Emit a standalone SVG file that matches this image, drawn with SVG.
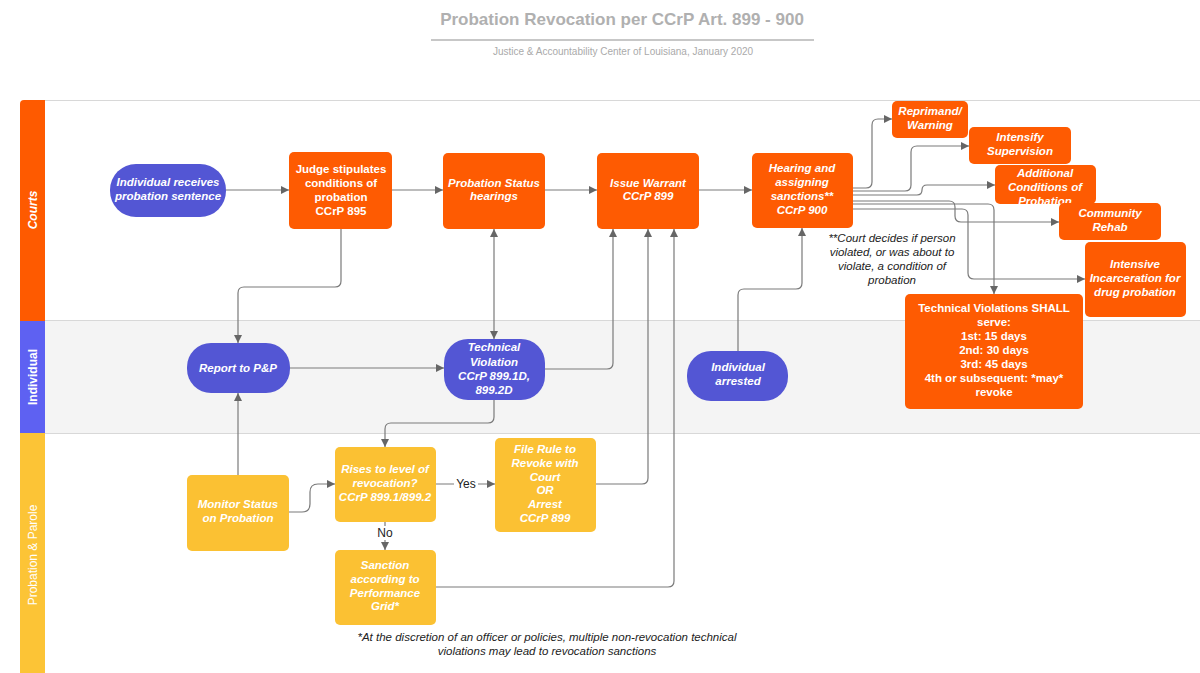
<svg xmlns="http://www.w3.org/2000/svg" width="1200" height="673" viewBox="0 0 1200 673">
<style>
.t{font-family:"Liberation Sans",Arial,sans-serif;font-size:11.5px;font-weight:bold;fill:#fff;text-anchor:middle}
.i{font-style:italic}
.org{fill:#fe5b02}
.blu{fill:#5356d4}
.yel{fill:#fbc133}
.c{fill:none;stroke:#7a7a7a;stroke-width:1.2}
.note{font-family:"Liberation Sans",Arial,sans-serif;font-size:11.5px;font-style:italic;fill:#222;text-anchor:middle}
.lab{font-family:"Liberation Sans",Arial,sans-serif;font-size:12px;fill:#222;text-anchor:middle}
.lane{stroke:#d8d8d8;stroke-width:1}
.hdr{font-family:"Liberation Sans",Arial,sans-serif;font-size:12px;fill:#fff;text-anchor:middle}
</style>
<defs>
<marker id="ah" viewBox="0 0 10 10" refX="10" refY="5" markerWidth="10" markerHeight="8" markerUnits="userSpaceOnUse" orient="auto-start-reverse"><path d="M0,0 L10,5 L0,10 z" fill="#666"/></marker>
<clipPath id="clipAdd"><rect x="995" y="165" width="101" height="39"/></clipPath>
</defs>
<rect width="1200" height="673" fill="#fff"/>
<g id="title">
<text x="622" y="25" font-family="Liberation Sans,Arial,sans-serif" font-size="17" font-weight="bold" fill="#b0b0b0" text-anchor="middle">Probation Revocation per CCrP Art. 899 - 900</text>
<line x1="431" y1="40" x2="814" y2="40" stroke="#b5b5b5" stroke-width="1.5"/>
<text x="623" y="55" font-family="Liberation Sans,Arial,sans-serif" font-size="10" fill="#aaa" text-anchor="middle">Justice &amp; Accountability Center of Louisiana, January 2020</text>
</g>
<g id="lanes">
<rect x="45" y="321" width="1155" height="112" fill="#f4f4f4"/>
<line class="lane" x1="45" y1="100.5" x2="1200" y2="100.5"/>
<line class="lane" x1="45" y1="320.5" x2="1200" y2="320.5"/>
<line class="lane" x1="45" y1="433.5" x2="1200" y2="433.5"/>
<path d="M20,104 Q20,100 24,100 H45 V321 H20 z" fill="#fe5a00"/>
<rect x="20" y="321" width="25" height="112" fill="#5e61f2"/>
<rect x="20" y="433" width="25" height="240" fill="#fcc436"/>
<text class="hdr" transform="translate(37,210) rotate(-90)" font-weight="bold" font-style="italic">Courts</text>
<text class="hdr" transform="translate(37,377) rotate(-90)" font-weight="bold">Individual</text>
<text class="hdr" transform="translate(37,555) rotate(-90)">Probation &amp; Parole</text>
</g>
<g id="connectors">
<path class="c" marker-end="url(#ah)" d="M226,190 H289"/>
<path class="c" marker-end="url(#ah)" d="M392,190 H443"/>
<path class="c" marker-end="url(#ah)" d="M545,190 H597"/>
<path class="c" marker-end="url(#ah)" d="M699,190 H752"/>
<path class="c" marker-end="url(#ah)" d="M341,229 V281 Q341,287 335,287 H244 Q238,287 238,293 V343"/>
<path class="c" marker-start="url(#ah)" marker-end="url(#ah)" d="M494,229 V339"/>
<path class="c" marker-end="url(#ah)" d="M290,368 H444"/>
<path class="c" marker-end="url(#ah)" d="M238,475 V393"/>
<path class="c" marker-end="url(#ah)" d="M494,400 V417 Q494,423 488,423 H391 Q385,423 385,429 V447"/>
<path class="c" marker-end="url(#ah)" d="M545,369 H607 Q613,369 613,363 V229"/>
<path class="c" marker-end="url(#ah)" d="M596,484 H642 Q648,484 648,478 V229"/>
<path class="c" marker-end="url(#ah)" d="M436,587 H668 Q674,587 674,581 V229"/>
<path class="c" marker-end="url(#ah)" d="M738,351 V295 Q738,289 744,289 H796 Q802,289 802,283 V228"/>
<path class="c" marker-end="url(#ah)" d="M289,512 H302 Q310,512 310,504 V492 Q310,484 318,484 H335"/>
<path class="c" marker-end="url(#ah)" d="M436,484 H495"/>
<path class="c" marker-end="url(#ah)" d="M385,522 V550"/>
<path class="c" marker-end="url(#ah)" d="M853,188 H866 Q872,188 872,182 V125 Q872,119 878,119 H892"/>
<path class="c" marker-end="url(#ah)" d="M853,191 H905 Q911,191 911,185 V152 Q911,146 917,146 H969"/>
<path class="c" marker-end="url(#ah)" d="M853,195 H917 Q922,195 922,190 Q922,185 927,185 H995"/>
<path class="c" marker-end="url(#ah)" d="M853,201 H949 Q955,201 955,207 V216 Q955,222 961,222 H1059"/>
<path class="c" marker-end="url(#ah)" d="M853,204 H988 Q994,204 994,210 V294"/>
<path class="c" marker-end="url(#ah)" d="M853,209 H962 Q968,209 968,215 V273 Q968,279 974,279 H1085"/>
<rect x="454" y="476" width="24" height="15" fill="#fff"/>
<text class="lab" x="466" y="488">Yes</text>
<rect x="376" y="526" width="18" height="14" fill="#fff"/>
<text class="lab" x="385" y="537">No</text>
</g>
<g id="n-receives">
<rect class="blu" x="110" y="164" width="116" height="53" rx="26"/>
<text class="t i" x="168" y="186">Individual receives</text>
<text class="t i" x="168" y="200">probation sentence</text>
</g>
<g id="n-judge">
<rect class="org" x="289" y="152" width="103" height="77" rx="5"/>
<text class="t" x="341" y="173">Judge stipulates</text>
<text class="t" x="341" y="187">conditions of</text>
<text class="t" x="341" y="201">probation</text>
<text class="t" x="341" y="215">CCrP 895</text>
</g>
<g id="n-status">
<rect class="org" x="443" y="153" width="102" height="76" rx="5"/>
<text class="t i" x="494" y="187">Probation Status</text>
<text class="t i" x="494" y="200">hearings</text>
</g>
<g id="n-warrant">
<rect class="org" x="597" y="153" width="102" height="76" rx="5"/>
<text class="t i" x="648" y="187">Issue Warrant</text>
<text class="t i" x="648" y="200">CCrP 899</text>
</g>
<g id="n-hearing">
<rect class="org" x="752" y="153" width="101" height="75" rx="5"/>
<text class="t i" x="802" y="172">Hearing and</text>
<text class="t i" x="802" y="186">assigning</text>
<text class="t i" x="802" y="200">sanctions**</text>
<text class="t i" x="802" y="214">CCrP 900</text>
</g>
<g id="n-reprimand">
<rect class="org" x="892" y="101" width="76" height="37" rx="5"/>
<text class="t i" x="930" y="115">Reprimand/</text>
<text class="t i" x="930" y="129">Warning</text>
</g>
<g id="n-intensify">
<rect class="org" x="969" y="127" width="102" height="37" rx="5"/>
<text class="t i" x="1020" y="141">Intensify</text>
<text class="t i" x="1020" y="155">Supervision</text>
</g>
<g id="n-additional">
<rect class="org" x="995" y="165" width="101" height="39" rx="5"/>
<g clip-path="url(#clipAdd)">
<text class="t i" x="1045" y="177">Additional</text>
<text class="t i" x="1045" y="191">Conditions of</text>
<text class="t i" x="1045" y="205">Probation</text>
</g>
</g>
<g id="n-rehab">
<rect class="org" x="1059" y="203" width="102" height="37" rx="5"/>
<text class="t i" x="1110" y="217">Community</text>
<text class="t i" x="1110" y="231">Rehab</text>
</g>
<g id="n-intensive">
<rect class="org" x="1085" y="242" width="101" height="75" rx="5"/>
<text class="t i" x="1135" y="268">Intensive</text>
<text class="t i" x="1135" y="282">Incarceration for</text>
<text class="t i" x="1135" y="296">drug probation</text>
</g>
<g id="n-shall">
<rect class="org" x="905" y="294" width="178" height="115" rx="5"/>
<text class="t" x="994" y="312">Technical Violations SHALL</text>
<text class="t" x="994" y="326">serve:</text>
<text class="t" x="994" y="340">1st: 15 days</text>
<text class="t" x="994" y="354">2nd: 30 days</text>
<text class="t" x="994" y="368">3rd: 45 days</text>
<text class="t" x="994" y="382">4th or subsequent: *may*</text>
<text class="t" x="994" y="396">revoke</text>
</g>
<g id="note-court">
<text class="note" x="892" y="242">**Court decides if person</text>
<text class="note" x="892" y="256">violated, or was about to</text>
<text class="note" x="892" y="270">violate, a condition of</text>
<text class="note" x="892" y="284">probation</text>
</g>
<g id="n-report">
<rect class="blu" x="187" y="343" width="103" height="50" rx="24"/>
<text class="t i" x="238" y="372">Report to P&amp;P</text>
</g>
<g id="n-techviol">
<rect class="blu" x="444" y="339" width="101" height="61" rx="24"/>
<text class="t i" x="494" y="351">Technical</text>
<text class="t i" x="494" y="366">Violation</text>
<text class="t i" x="494" y="380">CCrP 899.1D,</text>
<text class="t i" x="494" y="394">899.2D</text>
</g>
<g id="n-arrested">
<rect class="blu" x="687" y="351" width="101" height="50" rx="24"/>
<text class="t i" x="738" y="371">Individual</text>
<text class="t i" x="738" y="385">arrested</text>
</g>
<g id="n-monitor">
<rect class="yel" x="187" y="475" width="102" height="76" rx="5"/>
<text class="t i" x="238" y="508">Monitor Status</text>
<text class="t i" x="238" y="522">on Probation</text>
</g>
<g id="n-rises">
<rect class="yel" x="335" y="447" width="101" height="75" rx="5"/>
<text class="t i" x="385" y="473">Rises to level of</text>
<text class="t i" x="385" y="487">revocation?</text>
<text class="t i" x="385" y="501">CCrP 899.1/899.2</text>
</g>
<g id="n-filerule">
<rect class="yel" x="495" y="438" width="101" height="94" rx="5"/>
<text class="t i" x="545" y="453">File Rule to</text>
<text class="t i" x="545" y="467">Revoke with</text>
<text class="t i" x="545" y="481">Court</text>
<text class="t i" x="545" y="494">OR</text>
<text class="t i" x="545" y="508">Arrest</text>
<text class="t i" x="545" y="522">CCrP 899</text>
</g>
<g id="n-sanction">
<rect class="yel" x="335" y="550" width="101" height="75" rx="5"/>
<text class="t i" x="385" y="569">Sanction</text>
<text class="t i" x="385" y="583">according to</text>
<text class="t i" x="385" y="597">Performance</text>
<text class="t i" x="385" y="610">Grid*</text>
</g>
<g id="note-foot">
<text class="note" x="547" y="641">*At the discretion of an officer or policies, multiple non-revocation technical</text>
<text class="note" x="547" y="655">violations may lead to revocation sanctions</text>
</g>
</svg>
